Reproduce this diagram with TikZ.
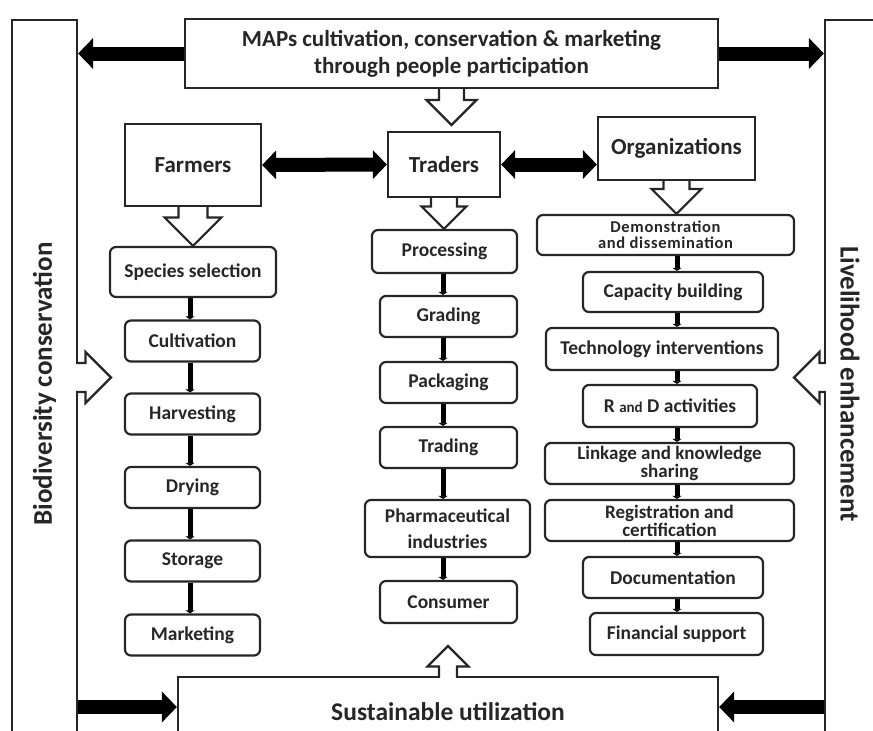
\documentclass[tikz,border=0pt]{standalone}
\usepackage{fontspec}
\usepackage{tikz}
\setmainfont{Carlito}
\usetikzlibrary{arrows.meta,calc}
\def\boxfont#1#2{\bfseries\fontsize{#1}{#2}\selectfont}
\newcommand{\hollowarrow}[5][]{%
  \coordinate (hs) at #2;
  \coordinate (ht) at #3;
  \coordinate (hh) at ($(ht)!#5pt!(hs)$);
  \draw[hollow,#1] ($(hs)!#4pt!90:(ht)$) -- ($(hh)!#4pt!-90:(hs)$)
    -- ($(hh)!#5pt!-90:(hs)$) -- (ht) -- ($(hh)!#5pt!90:(hs)$)
    -- ($(hh)!#4pt!90:(hs)$) -- ($(hs)!#4pt!-90:(ht)$);
}

\begin{document}
\begin{tikzpicture}[x=1pt,y=-1pt]
    \tikzstyle{bigbox}=[draw=black!85,line width=2.2pt,inner sep=0pt,align=center,
      text=black!85,font=\boxfont{23}{27}]
    \tikzstyle{stage}=[bigbox,rounded corners=6pt,font=\boxfont{19.5}{22}]
    \tikzstyle{side}=[bigbox,font=\boxfont{27}{30}]
    \tikzstyle{link}=[line width=5pt,black,-{Triangle[length=3pt,width=9pt]}]
    \tikzstyle{fat}=[line width=14pt,-{Triangle[length=15pt,width=30pt]}]
    \tikzstyle{fatboth}=[line width=14pt,{Triangle[length=14pt,width=28pt]}-{Triangle[length=14pt,width=28pt]}]
    \tikzstyle{hollow}=[draw=black!85,line width=2.2pt]
    \useasboundingbox (0,0) rectangle (873,731);
    \clip (0,0) rectangle (873,731);
    % outer frame
    \node[side,minimum width=65,minimum height=728] (bio) at (44.5,384)
      {\rotatebox{90}{Biodiversity conservation}};
    \node[side,minimum width=50,minimum height=728] (live) at (850,384)
      {\rotatebox{-90}{Livelihood enhancement}};
    \node[bigbox,minimum width=533,minimum height=69] (top) at (451.5,53.5)
      {MAPs cultivation, conservation \& marketing\\through people participation};
    \node[bigbox,minimum width=540,minimum height=70,font=\boxfont{25.5}{30}] (sust) at (448,712)
      {Sustainable utilization};
    % actors
    \node[bigbox,minimum width=136,minimum height=82] (farmers) at (193,165) {Farmers};
    \node[bigbox,minimum width=112,minimum height=65] (traders) at (444,164.5) {Traders};
    \node[bigbox,minimum width=157,minimum height=63] (org) at (676.5,148.5) {Organizations};
    % farmers column
    \node[stage,minimum width=166,minimum height=50] (spec) at (193,272) {Species selection};
    \foreach \n/\y/\t in {cult/341/Cultivation,harv/414/Harvesting,dry/487.5/Drying,
      stor/561/Storage,mark/635/Marketing}
      \node[stage,minimum width=135,minimum height=41] (\n) at (192.5,\y) {\t};
    % traders column
    \node[stage,minimum width=145,minimum height=43] (proc) at (444.5,251.5) {Processing};
    \foreach \n/\y/\t in {grad/316.5/Grading,pack/382.5/Packaging,trad/447.5/Trading}
      \node[stage,minimum width=137,minimum height=41] (\n) at (448.5,\y) {\t};
    \node[stage,minimum width=165,minimum height=57,font=\boxfont{19.5}{26}] (pharm) at (447.5,528.5)
      {Pharmaceutical\\industries};
    \node[stage,minimum width=137,minimum height=42] (cons) at (448.5,602) {Consumer};
    % organizations column
    \node[stage,minimum width=257,minimum height=40,font=\boxfont{16.5}{16}\addfontfeatures{LetterSpace=4}] (demo) at (665.5,235)
      {Demonstration\\and dissemination};
    \node[stage,minimum width=180,minimum height=40] (cap) at (673,292) {Capacity building};
    \node[stage,minimum width=232,minimum height=42] (tech) at (662,349) {Technology interventions};
    \node[stage,minimum width=174,minimum height=42] (rnd) at (670,406)
      {R {\boxfont{15}{15}and} D activities};
    \node[stage,minimum width=249,minimum height=41,font=\boxfont{19}{15.5}] (link) at (669.5,463.5)
      {Linkage and knowledge\\sharing};
    \node[stage,minimum width=249,minimum height=41,font=\boxfont{19}{18}] (reg) at (669.5,520.5)
      {Registration and\\certification};
    \node[stage,minimum width=180,minimum height=41] (doc) at (673,577.5) {Documentation};
    \node[stage,minimum width=173,minimum height=42] (fin) at (676.5,634) {Financial support};
    % column links
    \coordinate (lcol) at (190,0);
    \coordinate (mcol) at (443,0);
    \coordinate (rcol) at (677,0);
    \foreach \a/\b in {spec/cult,cult/harv,harv/dry,dry/stor,stor/mark}
      \draw[link] (\a.south -| lcol) -- (\b.north -| lcol);
    \foreach \a/\b in {proc/grad,grad/pack,pack/trad,trad/pharm,pharm/cons}
      \draw[link] (\a.south -| mcol) -- (\b.north -| mcol);
    \foreach \a/\b in {demo/cap,cap/tech,tech/rnd,rnd/link,link/reg,reg/doc,doc/fin}
      \draw[link] (\a.south -| rcol) -- (\b.north -| rcol);
    % black arrows
    \draw[fat] (top.west) -- (top.west -| bio.east);
    \draw[fat] (top.east) -- (top.east -| live.west);
    \draw[fatboth] (farmers.east) -- (traders.west);
    \draw[fatboth] (traders.east) -- (traders.east -| org.west);
    \coordinate (sl) at ([yshift=5pt]sust.west);
    \coordinate (sr) at ([yshift=5pt]sust.east);
    \draw[fat] (sl -| bio.east) -- (sl);
    \draw[fat] (sr -| live.west) -- (sr);
    % hollow arrows
    \coordinate (toptip) at (451.5,125);
    \coordinate (biotip) at (111,377.5);
    \coordinate (livetip) at (794,377.5);
    \coordinate (susttip) at (448,646);
    \hollowarrow{(top.south)}{(toptip)}{12.5}{25}
    \hollowarrow{(farmers.south)}{(spec.north)}{14.5}{28.5}
    \hollowarrow{(traders.south)}{(traders.south |- proc.north)}{13}{22.5}
    \hollowarrow{(org.south)}{(org.south |- demo.north)}{13}{25}
    \hollowarrow[fill=white]{($(bio.east |- biotip)+(-2,0)$)}{(biotip)}{14.5}{25.5}
    \hollowarrow[fill=white]{($(live.west |- livetip)+(2,0)$)}{(livetip)}{14.5}{25.5}
    \hollowarrow[fill=white]{($(sust.north)+(0,2)$)}{(susttip)}{9}{20.5}
\end{tikzpicture}
\end{document}
